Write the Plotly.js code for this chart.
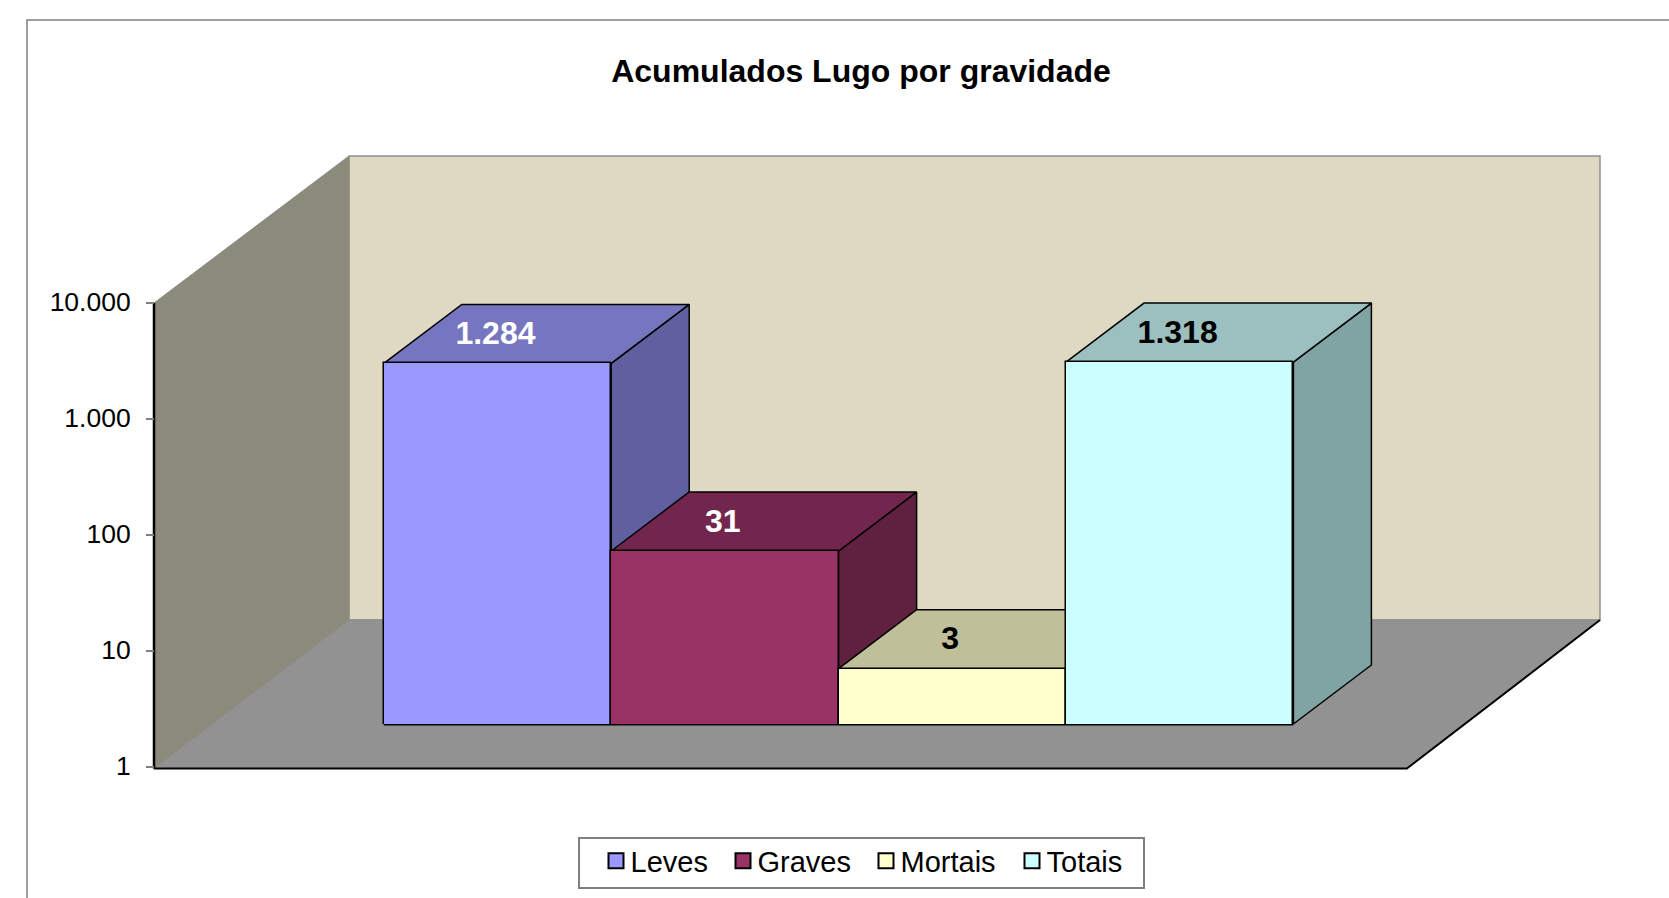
<!DOCTYPE html>
<html>
<head>
<meta charset="utf-8">
<script src="https://cdn.plot.ly/plotly-3.0.1.min.js"></script>
<style>html,body{margin:0;padding:0;background:#fff;overflow:hidden}</style>
</head>
<body>
<div id="chart" style="width:1669px;height:898px"></div>
<script>
const categories = ["Leves", "Graves", "Mortais", "Totais"];
const values = [1284, 31, 3, 1318];
const valueLabels = ["1.284", "31", "3", "1.318"];
const tickValues = [1, 10, 100, 1000, 10000];
const tickLabels = ["1", "10", "100", "1.000", "10.000"];
const frontColors = ["#9999FF", "#993366", "#FFFFCC", "#CCFFFF"];
const topColors = ["#7676C0", "#73264D", "#BFBF99", "#9CC0C0"];
const sideColors = ["#6060A0", "#60203F", "#A0A080", "#80A3A3"];
const labelColors = ["#FFFFFF", "#FFFFFF", "#000000", "#000000"];

// Oblique projection parameters
const W = 1669, H = 898;
const L = 154, R = 1600, T = 156, B = 767;   // corners of the 3D box on the page
const pad = 6;                               // keeps the box's edge lines inside the plot clip
const pL = L - pad, pR = R + pad, pT = T - pad, pB = B + pad;
const plotW = pR - pL, plotH = pB - pT;
const catPx = 227.4, decadePx = 116, barLeftPx = 383.8;
const xAt = px => (px - barLeftPx) / catPx - 0.5;
const xRange = [xAt(pL), xAt(pR)];
const yRange = [-pad / decadePx, (B - pT) / decadePx];
const front = xAt(L), back = xAt(R);
const liftPx = 43;
const liftBars = liftPx / decadePx;          // bars stand on the floor, in front-plane decades
const barDX = 78 / catPx, barDY = 59 / decadePx;
const wallDX = 195 / catPx, wallDY = 147 / decadePx;
const floorFrontRight = 3.999;
const floorDrop = -1.5 / decadePx;

const up = (v, d) => Math.pow(10, Math.log10(v) + d);

function poly(xs, ys, fill, line, width) {
  return {type: "scatter", mode: "lines", x: xs.concat(xs[0]), y: ys.concat(ys[0]),
    fill: "toself", fillcolor: fill, line: {color: line, width: width},
    showlegend: false, hoverinfo: "skip", xaxis: "x", yaxis: "y"};
}
function seg(xs, ys, color, width) {
  return {type: "scatter", mode: "lines", x: xs, y: ys, line: {color: color, width: width},
    showlegend: false, hoverinfo: "skip", xaxis: "x", yaxis: "y"};
}

const traces = [];
// Walls and floor
const floorLow = up(1, floorDrop);
traces.push(poly([front + wallDX, back, back, front + wallDX],
                 [up(1, wallDY), up(1, wallDY), up(10000, wallDY), up(10000, wallDY)], "#DFD9C3", "#8E8E8E", 1.5));
traces.push(poly([front, front + wallDX, front + wallDX, front],
                 [floorLow, up(1, wallDY), up(10000, wallDY), 10000], "#8C8A7A", "#8E8E86", 1));
traces.push(poly([front, floorFrontRight, back, front + wallDX],
                 [floorLow, floorLow, up(1, wallDY), up(1, wallDY)], "#929292", "#8A8A8A", 1));
traces.push(seg([front, floorFrontRight, back], [floorLow, floorLow, up(1, wallDY)], "#000000", 2));
traces.push(seg([front, front], [floorLow, 10000], "#000000", 2.5));

// Bottom edge of the row of bars
const baseEdge = up(1, liftBars - 0.7 / decadePx);
traces.push(seg([-0.5, categories.length - 0.5], [baseEdge, baseEdge], "#000000", 1.5));

// Side and top faces, left to right
categories.forEach((c, i) => {
  const x0 = i - 0.5, x1 = i + 0.5;
  traces.push(poly([x1, x1 + barDX, x1 + barDX, x1],
    [up(1, liftBars), up(1, liftBars + barDY), up(values[i], liftBars + barDY), up(values[i], liftBars)],
    sideColors[i], "#000000", 1.5));
  traces.push(poly([x0, x1, x1 + barDX, x0 + barDX],
    [up(values[i], liftBars), up(values[i], liftBars), up(values[i], liftBars + barDY), up(values[i], liftBars + barDY)],
    topColors[i], "#000000", 1.5));
});

// Front faces: real bars on an axis whose bottom is the raised base plane
categories.forEach((c, i) => {
  traces.push({type: "bar", name: c, x: [i], y: [values[i]], width: 1,
    marker: {color: frontColors[i], line: {color: "#000000", width: 1.5}},
    xaxis: "x", yaxis: "y2", cliponaxis: false, hovertemplate: c + ": %{y}<extra></extra>"});
});

// Value labels on the top faces
traces.push({type: "scatter", mode: "text",
  x: values.map((v, i) => i - 0.009),
  y: values.map(v => up(v, liftBars + barDY / 2 - 2 / decadePx)),
  text: valueLabels, textposition: "middle center",
  textfont: {family: "Liberation Sans, Arial, sans-serif", size: 32, color: labelColors, weight: 700},
  showlegend: false, hoverinfo: "skip", xaxis: "x", yaxis: "y", cliponaxis: false});

const layout = {
  width: W, height: H, autosize: false,
  paper_bgcolor: "#FFFFFF", plot_bgcolor: "rgba(0,0,0,0)",
  margin: {l: pL, r: W - pR, t: pT, b: H - pB, pad: 0, autoexpand: false},
  font: {family: "Liberation Sans, Arial, sans-serif", color: "#000000"},
  title: {text: "<b>Acumulados Lugo por gravidade</b>", font: {size: 32, color: "#000000"},
          x: 861 / W, xanchor: "center", y: 1 - 71 / H, yanchor: "middle"},
  barmode: "overlay", bargap: 0,
  xaxis: {range: xRange, visible: false, fixedrange: true},
  yaxis: {type: "log", range: yRange, tickmode: "array", tickvals: tickValues, ticktext: tickLabels,
          anchor: "free", position: pad / plotW,
          ticks: "outside", ticklen: 8, tickwidth: 1.5, tickcolor: "#7F7F7F", ticklabelstandoff: 10,
          ticklabelshift: -1, showgrid: false, zeroline: false, showline: false,
          tickfont: {size: 26.5, color: "#000000"}, fixedrange: true},
  yaxis2: {type: "log", domain: [(pad + liftPx) / plotH, 1], range: [0, (B - liftPx - pT) / decadePx],
           visible: false, anchor: "x", fixedrange: true},
  legend: {orientation: "h", x: (578 - pL) / plotW, xanchor: "left", y: (pB - 837) / plotH, yanchor: "top",
           bordercolor: "#7F7F7F", borderwidth: 1.5, bgcolor: "#FFFFFF", traceorder: "normal",
           itemwidth: 30, indentation: 11,
           font: {size: 29, color: "#000000"}, itemclick: false, itemdoubleclick: false},
  shapes: [{type: "rect", xref: "paper", yref: "paper", layer: "below",
            x0: (27 - pL) / plotW, x1: (1720 - pL) / plotW, y0: (pB - 950) / plotH, y1: (pB - 20) / plotH,
            line: {color: "#7F7F7F", width: 1.5}, fillcolor: "rgba(0,0,0,0)"}]
};
const legendEntryShift = [0, 127, 270, 416];  // page-px spacing of the legend entries
Plotly.newPlot("chart", traces, layout, {displayModeBar: false}).then(() => {
  // Excel-style legend keys: slightly larger squares sitting closer to their text, roomier box
  document.querySelectorAll(".legend .traces .legendpoints path").forEach(p => {
    p.setAttribute("d", "M7.5,7.5H-7.5V-7.5H7.5Z");
    p.style.strokeWidth = "2px";
    p.setAttribute("transform", (p.getAttribute("transform") || "") + " translate(5.5,0)");
  });
  const rows = document.querySelectorAll(".legend .traces");
  const parse = el => (el.getAttribute("transform") || "").match(/translate\(\s*([-\d.]+)[ ,]+([-\d.]+)/);
  const first = rows.length ? parse(rows[0]) : null;
  if (first) rows.forEach((r, i) => {
    const m = parse(r);
    r.setAttribute("transform", `translate(${+first[1] + legendEntryShift[i]},${+m[2] - 3})`);
  });
  const bg = document.querySelector(".legend .bg");
  if (bg) { bg.setAttribute("width", 565); bg.setAttribute("height", 50); }
});
</script>
</body>
</html>
